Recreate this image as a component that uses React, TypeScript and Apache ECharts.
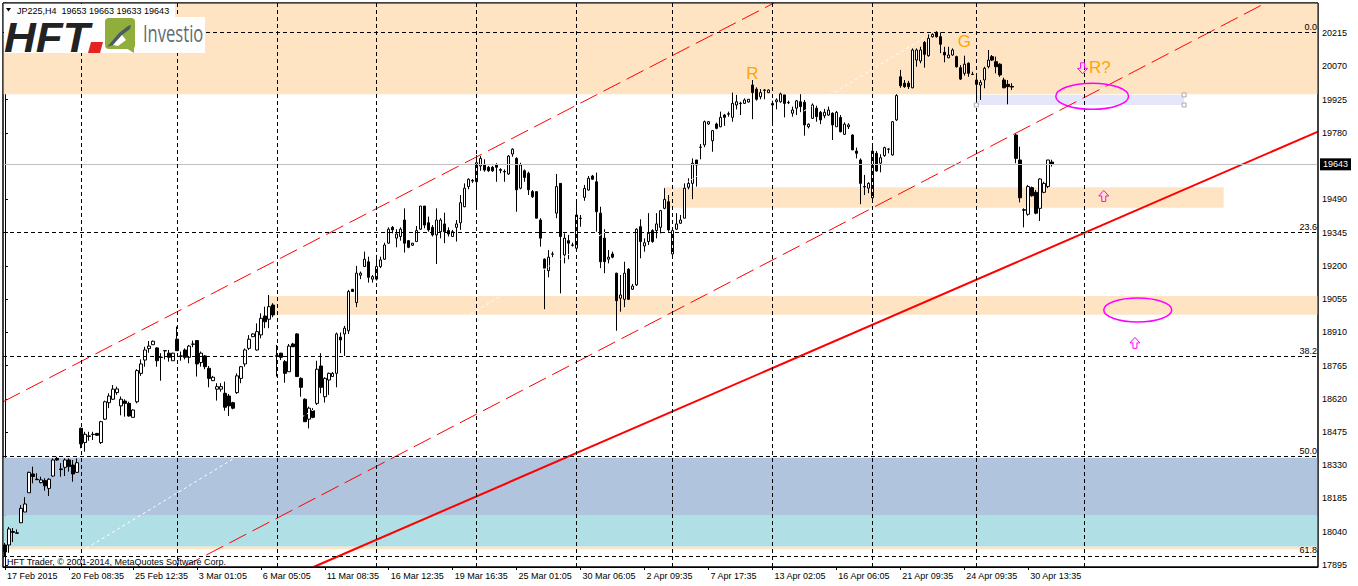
import React, { useEffect, useRef } from 'react';
import * as echarts from 'echarts';

const FONT = '"Liberation Sans", Arial, sans-serif';
const SLOT_COUNT = 329;
const TIME_LABEL_STEP = 16;

const timeLabels = [
  '17 Feb 2015', '20 Feb 08:35', '25 Feb 12:35', '3 Mar 01:05', '6 Mar 05:05', '11 Mar 08:35',
  '16 Mar 12:35', '19 Mar 16:35', '25 Mar 01:05', '30 Mar 06:05', '2 Apr 09:35', '7 Apr 17:35',
  '13 Apr 02:05', '16 Apr 06:05', '21 Apr 09:35', '24 Apr 09:35', '30 Apr 13:35',
];
const priceTicks = [17895, 18040, 18185, 18330, 18475, 18620, 18765, 18910, 19055, 19200, 19345, 19490, 19780, 19925, 20070, 20215];
const priceMin = 17886;
const priceMax = 20347;
const lastPrice = 19643;
const headerText = 'JP225,H4  19653 19663 19633 19643';
const footerText = 'HFT Trader, \u00a9 2001-2014, MetaQuotes Software Corp.';

const fibLabels = ['0.0', '23.6', '38.2', '50.0', '61.8'];
const fibPrices = [20219, 19346, 18806, 18370, 17934];
const weekGridBars = [19, 43, 68, 93, 118, 143, 167, 192, 217, 243, 270];

// [open, close, low, high]
const candles: number[][] = [
  [17982,17952,17934,17991],[17982,18052,17948,18061],[18041,18037,17995,18056],[18035,18033,18031,18050],
  [18079,18142,18078,18156],[18126,18161,18126,18191],[18210,18299,18210,18302],[18292,18281,18251,18324],
  [18269,18267,18266,18295],[18254,18266,18251,18280],[18263,18240,18219,18273],[18229,18269,18196,18273],
  [18283,18353,18280,18360],[18360,18353,18350,18367],[18314,18311,18280,18339],[18321,18353,18283,18360],
  [18353,18324,18302,18360],[18331,18292,18258,18353],[18299,18341,18297,18360],[18491,18423,18404,18494],
  [18429,18465,18389,18476],[18458,18456,18437,18476],[18465,18464,18440,18476],[18469,18461,18458,18471],
  [18429,18520,18423,18524],[18531,18607,18528,18612],[18603,18632,18579,18644],[18618,18662,18615,18680],
  [18647,18663,18637,18673],[18589,18618,18548,18630],[18610,18600,18542,18618],[18600,18545,18542,18607],
  [18539,18571,18539,18574],[18607,18743,18600,18749],[18731,18772,18720,18792],[18789,18833,18760,18847],
  [18839,18850,18821,18872],[18856,18871,18855,18874],[18842,18786,18760,18845],[18802,18800,18699,18819],
  [18830,18829,18792,18833],[18819,18801,18782,18833],[18786,18819,18786,18821],[18880,18830,18830,18935],
  [18807,18806,18786,18826],[18833,18801,18792,18840],[18801,18850,18775,18855],[18859,18858,18845,18874],
  [18874,18772,18717,18874],[18778,18819,18760,18826],[18807,18760,18749,18811],[18753,18709,18670,18763],
  [18699,18714,18699,18720],[18662,18673,18612,18688],[18662,18673,18651,18688],[18644,18583,18568,18695],
  [18632,18589,18545,18641],[18603,18579,18574,18607],[18647,18720,18641,18731],[18709,18760,18688,18763],
  [18772,18833,18760,18840],[18840,18880,18833,18898],[18891,18903,18889,18906],[18833,18913,18830,18949],
  [18899,18971,18884,18993],[18981,18956,18928,19022],[18967,19022,18928,19073],[19029,18986,18976,19037],
  [18808,18806,18717,18855],[18819,18801,18789,18821],[18782,18731,18690,18789],[18738,18850,18738,18859],
  [18859,18847,18846,18864],[18903,18717,18717,18906],[18709,18670,18629,18714],[18618,18520,18520,18622],
  [18531,18579,18491,18586],[18568,18539,18535,18579],[18600,18749,18593,18786],[18763,18670,18644,18819],
  [18629,18709,18603,18714],[18702,18731,18637,18734],[18717,18731,18715,18737],[18731,18903,18670,18909],
  [18889,18877,18819,18909],[18903,18928,18807,18938],[18917,19088,18903,19095],[19098,19088,19086,19099],
  [19040,19168,19020,19200],[19159,19168,19142,19175],[19197,19229,19197,19262],[19218,19150,19127,19240],
  [19142,19153,19127,19160],[19142,19197,19136,19248],[19197,19226,19190,19240],[19229,19291,19226,19301],
  [19299,19360,19296,19368],[19368,19357,19342,19374],[19321,19339,19281,19360],[19328,19360,19310,19368],
  [19400,19299,19258,19451],[19310,19281,19277,19313],[19290,19299,19287,19300],[19306,19354,19306,19374],
  [19360,19461,19357,19461],[19461,19378,19364,19461],[19388,19357,19349,19415],[19368,19335,19328,19378],
  [19335,19400,19208,19451],[19349,19400,19320,19408],[19383,19349,19299,19432],[19354,19339,19328,19368],
  [19328,19349,19328,19357],[19368,19383,19306,19400],[19388,19476,19357,19509],[19458,19539,19456,19560],
  [19546,19578,19534,19582],[19573,19570,19562,19579],[19567,19650,19461,19684],[19636,19669,19615,19680],
  [19640,19618,19611,19665],[19630,19615,19610,19636],[19630,19615,19610,19636],[19640,19630,19567,19648],
  [19620,19617,19604,19626],[19612,19610,19567,19621],[19601,19679,19597,19684],[19688,19709,19676,19713],
  [19669,19532,19436,19674],[19539,19640,19534,19650],[19615,19586,19567,19621],[19604,19532,19509,19611],
  [19524,19502,19496,19531],[19524,19408,19408,19524],[19400,19321,19284,19408],[19229,19190,19011,19233],
  [19179,19238,19150,19269],[19252,19251,19238,19262],[19430,19546,19408,19601],[19560,19328,19080,19560],
  [19248,19321,19211,19342],[19310,19299,19229,19335],[19291,19290,19284,19301],[19277,19422,19277,19484],
  [19408,19407,19371,19422],[19499,19538,19484,19553],[19531,19582,19528,19592],[19592,19578,19575,19597],
  [19567,19436,19349,19607],[19430,19218,19190,19458],[19321,19218,19168,19360],[19229,19238,19211,19269],
  [19252,19238,19233,19262],[19168,19048,18917,19170],[19059,19073,19000,19160],[19054,19168,19020,19218],
  [19185,19054,19051,19190],[19098,19112,19095,19121],[19117,19360,19112,19364],[19371,19306,19233,19403],
  [19287,19301,19262,19320],[19306,19342,19291,19430],[19354,19306,19301,19360],[19354,19383,19320,19430],
  [19368,19441,19342,19444],[19451,19490,19447,19539],[19480,19357,19349,19509],[19252,19354,19248,19357],
  [19360,19383,19357,19430],[19386,19400,19383,19422],[19408,19539,19408,19560],[19543,19560,19534,19582],
  [19560,19648,19491,19669],[19662,19640,19546,19662],[19718,19717,19665,19732],[19728,19829,19718,19834],
  [19819,19829,19815,19832],[19746,19790,19698,19793],[19819,19800,19796,19825],[19807,19848,19805,19873],
  [19858,19848,19811,19863],[19864,19862,19851,19873],[19848,19909,19829,19956],[19902,19916,19883,19946],
  [19910,19908,19858,19916],[19909,19924,19906,19931],[19915,19927,19913,19928],[19989,19956,19840,20011],
  [19971,19927,19921,19979],[19938,19956,19927,19971],[19967,19966,19927,19971],[19956,19967,19954,19970],
  [19902,19909,19819,19921],[19916,19924,19883,19931],[19916,19950,19912,19956],[19946,19909,19848,19946],
  [19913,19912,19906,19921],[19866,19880,19851,19895],[19888,19920,19858,19924],[19916,19895,19870,19949],
  [19914,19815,19768,19924],[19807,19818,19800,19822],[19844,19902,19841,19909],[19888,19851,19829,19899],
  [19870,19837,19818,19876],[19855,19870,19844,19885],[19858,19880,19855,19895],[19866,19815,19749,19870],
  [19807,19870,19807,19876],[19847,19785,19783,19858],[19774,19818,19771,19826],[19807,19815,19797,19822],
  [19771,19706,19706,19774],[19701,19691,19669,19716],[19662,19560,19469,19669],[19546,19544,19509,19597],
  [19539,19560,19517,19565],[19497,19701,19477,19720],[19691,19614,19611,19701],[19648,19672,19608,19687],
  [19681,19716,19676,19720],[19710,19709,19691,19713],[19684,19829,19681,19832],[19837,19943,19832,19949],
  [20025,19986,19977,20055],[19997,19982,19977,20011],[19997,19982,19972,20007],[19977,20142,19975,20149],
  [20098,20142,20069,20149],[20094,20142,20084,20156],[20175,20123,20065,20181],[20117,20193,20113,20210],
  [20200,20210,20196,20215],[20219,20200,20196,20224],[20200,20167,20128,20219],[20132,20120,20088,20156],
  [20108,20120,20106,20156],[20120,20142,20117,20149],[20113,20069,20065,20117],[20065,20015,20011,20076],
  [20040,20080,20030,20117],[20084,20040,20025,20088],[20036,20035,20033,20047],[20011,19992,19895,20036],
  [19989,20001,19924,20011],[20011,20062,19975,20069],[20069,20098,20062,20142],[20113,20098,20094,20120],
  [20091,20069,20040,20113],[20080,20033,20025,20084],[20011,19977,19975,20021],[19992,19982,19905,20011],
  [19983,19980,19967,19997],[19771,19669,19648,19779],[19662,19497,19477,19720],[19445,19443,19368,19451],
  [19425,19546,19419,19553],[19541,19506,19502,19546],[19521,19430,19425,19531],[19451,19579,19396,19582],
  [19521,19560,19517,19567],[19546,19662,19539,19662],[19653,19643,19633,19663],
];

// trend lines: [bar, price] end points
const upperChannel = [[-0.5, 18607], [192.4, 20347]];
const lowerChannel = [[44.6, 17886], [315.4, 20347]];
const supportLine = [[77.2, 17886], [328.5, 19786]];
const guideLine = [[20.4, 17968], [230.4, 20200]];

// zones: [barFrom, priceLow, barTo, priceHigh]
const zoneBounds = [
  [-0.5, 19949, 328.5, 20347],
  [164.9, 19454, 304.9, 19543],
  [66, 18987, 328.5, 19069],
  [-0.5, 17963, 328.5, 17975],
  [-0.5, 18110, 328.5, 18363],
  [-0.5, 17975, 328.5, 18110],
  [243, 19902, 295, 19946],
];
const zoneColors = ['#FFE4C4', '#FFE4C4', '#FFE4C4', '#FFE4C4', '#B0C4DE', '#B0E0E6', '#E6E6FA'];

const noteLabels = ['R', 'G', 'R?'];
const noteBars = [187, 240, 273.9];
const notePrices = [20040, 20180, 20064];

// ellipses: [barFrom, priceLow, barTo, priceHigh]
const ellipseBounds = [
  [262.9, 19883, 281.1, 19997],
  [274.9, 18955, 291.9, 19060],
];
const arrowDirs = ['down', 'up', 'up'];
const arrowBars = [269.6, 274.9, 282.7];
const arrowPrices = [20062, 19505, 18864];

export default function App() {
  const ref = useRef<HTMLDivElement>(null);
  useEffect(() => {
    const el = ref.current as HTMLDivElement;
    const chart = echarts.init(el, null, { renderer: 'svg' });
    const categories = Array.from({ length: SLOT_COUNT }, (_, i) => String(i));
    const showTime = (i: number) => i % TIME_LABEL_STEP === 0 && i / TIME_LABEL_STEP < timeLabels.length;

    const lineSeries = (data: number[][], color: string, width: number, type: any, extra: any = {}) => ({
      type: 'line',
      xAxisIndex: 1,
      yAxisIndex: 0,
      data,
      symbol: 'none',
      silent: true,
      animation: false,
      lineStyle: { color, width, type },
      ...extra,
    });

    const option: any = {
      animation: false,
      backgroundColor: '#fff',
      grid: { left: 3, right: 40, top: 3, bottom: 19, show: true, borderColor: '#000', borderWidth: 1, backgroundColor: '#fff' },
      xAxis: [
        {
          type: 'category',
          data: categories,
          boundaryGap: true,
          axisLine: { show: true, lineStyle: { color: '#000', width: 1 } },
          axisTick: { show: true, alignWithLabel: true, interval: (i: number) => showTime(i), length: 3, lineStyle: { color: '#000' } },
          axisLabel: {
            interval: (i: number) => showTime(i),
            formatter: (_v: string, i: number) => (showTime(i) ? timeLabels[i / TIME_LABEL_STEP] : ''),
            align: 'left',
            padding: [0, 0, 0, 2],
            color: '#000',
            fontSize: 9,
            fontFamily: FONT,
            margin: 4,
          },
          splitLine: { show: false },
        },
        { type: 'value', min: -0.5, max: SLOT_COUNT - 0.5, show: false },
      ],
      yAxis: [
        {
          type: 'value',
          position: 'right',
          min: priceMin,
          max: priceMax,
          scale: true,
          splitLine: { show: false },
          axisLine: { show: true, lineStyle: { color: '#000', width: 1 } },
          axisTick: { show: true, length: 3, customValues: priceTicks, lineStyle: { color: '#000' } },
          axisLabel: {
            customValues: priceTicks,
            formatter: (v: number) => String(Math.round(v)),
            color: '#000',
            fontSize: 9,
            fontFamily: FONT,
            margin: 4,
          },
        },
      ],
      series: [
        {
          type: 'candlestick',
          xAxisIndex: 0,
          yAxisIndex: 0,
          data: candles,
          barWidth: 3,
          silent: true,
          animation: false,
          itemStyle: { color: '#fff', color0: '#000', borderColor: '#000', borderColor0: '#000', borderWidth: 1 },
          markLine: {
            silent: true,
            animation: false,
            symbol: ['none', 'none'],
            lineStyle: { color: '#C0C0C0', type: 'solid', width: 1 },
            label: {
              show: true,
              position: 'end',
              formatter: String(lastPrice),
              backgroundColor: '#000',
              color: '#fff',
              padding: [2, 3, 1, 3],
              fontSize: 9,
              fontFamily: FONT,
              distance: 2,
            },
            data: [{ yAxis: lastPrice }],
          },
        },
        lineSeries(guideLine, '#fff', 1, [3, 3], {
          markArea: {
            silent: true,
            animation: false,
            data: zoneBounds.map((z, i) => [
              { coord: [z[0], z[1]], itemStyle: { color: zoneColors[i], opacity: 1 } },
              { coord: [z[2], z[3]] },
            ]),
          },
          markLine: {
            silent: true,
            animation: false,
            symbol: ['none', 'none'],
            lineStyle: { color: '#000', type: [4, 3], width: 1 },
            label: { show: false },
            data: [
              ...weekGridBars.map((b) => ({ xAxis: b })),
              ...fibPrices.map((p, i) => ({
                yAxis: p,
                label: {
                  show: true,
                  formatter: fibLabels[i],
                  position: 'insideEndTop',
                  color: '#000',
                  fontSize: 9,
                  fontFamily: FONT,
                  distance: 1,
                },
              })),
            ],
          },
        }),
        lineSeries(upperChannel, '#FF0000', 1, [19, 7]),
        lineSeries(lowerChannel, '#FF0000', 1, [19, 7]),
        lineSeries(supportLine, '#FF0000', 2, 'solid'),
      ],
    };
    chart.setOption(option);

    const toPx = (x: number, y: number) => chart.convertToPixel({ seriesIndex: 2 }, [x, y]) as number[];

    const graphics: any[] = [];
    // frame
    graphics.push({ type: 'rect', z: 50, silent: true, shape: { x: 3, y: 3, width: 1315, height: 564 }, style: { fill: 'none', stroke: '#000', lineWidth: 1 } });
    // header
    graphics.push({ type: 'rect', z: 100, shape: { x: 4, y: 4, width: 171, height: 13 }, style: { fill: '#fff' } });
    graphics.push({ type: 'polygon', z: 101, shape: { points: [[6, 8], [11, 8], [8.5, 11.5]] }, style: { fill: '#000' } });
    graphics.push({
      type: 'text', z: 101, x: 17, y: 10.5,
      style: { text: headerText, fill: '#000', fontSize: 9, fontFamily: FONT, textAlign: 'left', textVerticalAlign: 'middle', align: 'left', verticalAlign: 'middle' },
    });
    // logo
    graphics.push({ type: 'rect', z: 100, shape: { x: 4, y: 17, width: 201, height: 36 }, style: { fill: '#fff' } });
    graphics.push({
      type: 'text', z: 101, x: 4, y: 37, scaleX: 1.05,
      style: { text: 'HFT', fill: '#222', fontSize: 42, lineHeight: 42, fontWeight: 'bold', fontStyle: 'italic', fontFamily: FONT, textAlign: 'left', textVerticalAlign: 'middle', align: 'left', verticalAlign: 'middle' },
    });
    graphics.push({ type: 'polygon', z: 101, shape: { points: [[91, 42], [103, 42], [100, 53], [88, 53]] }, style: { fill: '#E32522' } });
    graphics.push({ type: 'rect', z: 101, shape: { x: 105, y: 18, width: 30, height: 31, r: 4 }, style: { fill: '#8FAE3C' } });
    graphics.push({ type: 'polygon', z: 101, shape: { points: [[126, 48], [134, 46], [134, 53]] }, style: { fill: '#8FAE3C' } });
    graphics.push({ type: 'polygon', z: 102, shape: { points: [[107, 47], [119, 33], [128, 26], [131, 25], [130, 29], [122, 35], [113, 45]] }, style: { fill: '#4B5A66' } });
    graphics.push({ type: 'polygon', z: 102, shape: { points: [[113, 45], [122, 35], [126, 40], [118, 46]] }, style: { fill: '#fff' } });
    graphics.push({
      type: 'text', z: 101, x: 143, y: 33, scaleX: 0.72,
      style: { text: 'Investio', fill: '#5E6B73', fontSize: 23, lineHeight: 24, fontFamily: '"Open Sans", sans-serif', textAlign: 'left', textVerticalAlign: 'middle', align: 'left', verticalAlign: 'middle' },
    });
    // footer
    graphics.push({
      type: 'text', z: 101, x: 7, y: 561.5,
      style: { text: footerText, fill: '#000', fontSize: 9, fontFamily: FONT, textAlign: 'left', textVerticalAlign: 'middle', align: 'left', verticalAlign: 'middle' },
    });
    // notes
    noteLabels.forEach((t, i) => {
      const p = toPx(noteBars[i], notePrices[i]);
      graphics.push({
        type: 'text', z: 101, x: p[0], y: p[1],
        style: { text: t, fill: '#FFA500', fontSize: 17, fontFamily: FONT, textAlign: 'center', textVerticalAlign: 'middle', align: 'center', verticalAlign: 'middle' },
      });
    });
    ellipseBounds.forEach((b) => {
      const a = toPx(b[0], b[3]);
      const c = toPx(b[2], b[1]);
      graphics.push({
        type: 'ellipse', z: 101,
        shape: { cx: (a[0] + c[0]) / 2, cy: (a[1] + c[1]) / 2, rx: Math.abs(c[0] - a[0]) / 2, ry: Math.abs(c[1] - a[1]) / 2 },
        style: { fill: 'none', stroke: '#FF00FF', lineWidth: 1.5 },
      });
    });
    arrowDirs.forEach((d, i) => {
      const p = toPx(arrowBars[i], arrowPrices[i]);
      const s = d === 'up' ? 1 : -1;
      const pts = [[0, -5.5], [5, 0], [2, 0], [2, 5.5], [-2, 5.5], [-2, 0], [-5, 0]].map((q) => [p[0] + q[0], p[1] + s * q[1]]);
      graphics.push({ type: 'polygon', z: 101, shape: { points: pts }, style: { fill: 'none', stroke: '#FF00FF', lineWidth: 1 } });
    });
    // selection handles of lavender zone
    const lav = zoneBounds[6];
    [[lav[0], lav[1]], [lav[2], lav[1]], [lav[2], lav[3]]].forEach((q) => {
      const p = toPx(q[0], q[1]);
      graphics.push({ type: 'rect', z: 101, shape: { x: p[0] - 2, y: p[1] - 2, width: 4, height: 4 }, style: { fill: '#fff', stroke: '#aaa', lineWidth: 1 } });
    });

    chart.setOption({ graphic: graphics });
    return () => chart.dispose();
  }, []);
  return <div ref={ref} style={{ position: 'absolute', left: 0, top: 0, width: 1358, height: 586 }} />;
}
